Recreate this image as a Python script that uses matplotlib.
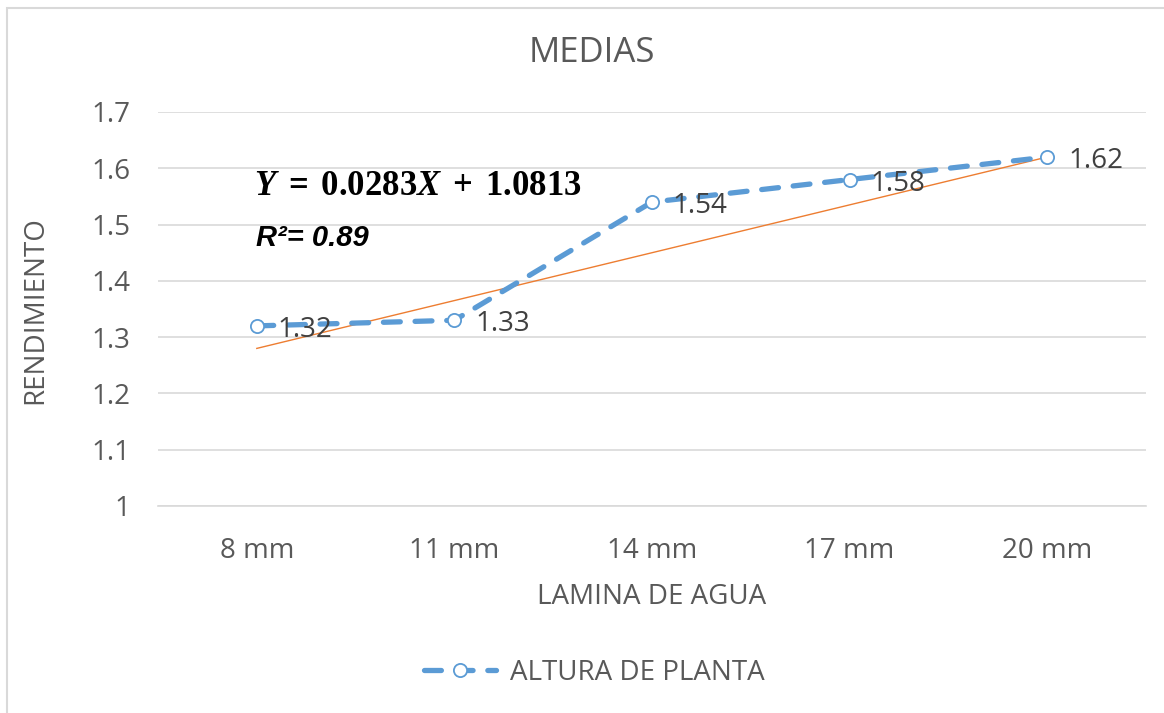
"""
Rendimiento medio por lámina de agua, con línea de tendencia lineal.
"""

import matplotlib

matplotlib.use("Agg")
import matplotlib.pyplot as plt
from matplotlib.patches import Rectangle

# ---------------------------------------------------------------------------
# Datos
# ---------------------------------------------------------------------------

categorias = ["8 mm", "11 mm", "14 mm", "17 mm", "20 mm"]
medias = [1.32, 1.33, 1.54, 1.58, 1.62]

# Extremos de la línea de tendencia (primera y última categoría)
tendencia = [1.28, 1.62]

y_ticks = [1, 1.1, 1.2, 1.3, 1.4, 1.5, 1.6, 1.7]

# ---------------------------------------------------------------------------
# Estilo
# ---------------------------------------------------------------------------

BLUE = "#5B9BD5"
ORANGE = "#ED7D31"
GRID = "#D9D9D9"
TXT = "#595959"
LBL = "#404040"
FS = 20

plt.rcParams.update(
    {
        "font.family": ["Open Sans", "DejaVu Sans"],
        "font.size": FS,
        "mathtext.fontset": "custom",
        "mathtext.rm": "Liberation Serif:bold",
        "mathtext.it": "Liberation Serif:bold:italic",
        "mathtext.bf": "Liberation Serif:bold",
    }
)

W, H = 1164, 713
fig = plt.figure(figsize=(W / 100, H / 100), dpi=100)
fig.patch.set_facecolor("white")

# Borde del área del gráfico
fig.patches.append(
    Rectangle(
        (7 / W, -0.05),
        1.1,
        1.05 - 8 / H,
        transform=fig.transFigure,
        fill=False,
        edgecolor=GRID,
        linewidth=1.5,
    )
)

ax = fig.add_axes([158 / W, 1 - 506 / H, (1146 - 158) / W, (506 - 112) / H])

x = list(range(1, len(categorias) + 1))

# Línea de tendencia
ax.plot([x[0], x[-1]], tendencia, color=ORANGE, linewidth=1.0, zorder=2)

# Serie principal
ax.plot(
    x,
    medias,
    color=BLUE,
    linewidth=3.8,
    linestyle=(0, (3.2, 2.8)),
    dash_capstyle="round",
    marker="o",
    markersize=9.5,
    markerfacecolor="white",
    markeredgecolor=BLUE,
    markeredgewidth=1.3,
    label="ALTURA DE PLANTA",
    zorder=3,
)

for xi, yi in zip(x, medias):
    ax.annotate(
        f"{yi:.2f}",
        (xi, yi),
        xytext=(15, -3),
        textcoords="offset points",
        ha="left",
        va="center",
        fontsize=FS,
        color=LBL,
        zorder=4,
    )

ax.set_xlim(0.5, len(categorias) + 0.5)
ax.set_ylim(1.0, 1.7)
ax.set_yticks(y_ticks)
ax.set_yticklabels([f"{t:g}" for t in y_ticks])
ax.set_xticks(x)
ax.set_xticklabels(categorias)

ax.grid(axis="y", color=GRID, linewidth=1.2)
ax.set_axisbelow(True)
for side in ("top", "right", "left"):
    ax.spines[side].set_visible(False)
ax.spines["bottom"].set_color(GRID)
ax.spines["bottom"].set_linewidth(1.2)
ax.tick_params(axis="both", length=0, colors=TXT, labelsize=FS)
ax.tick_params(axis="y", pad=20)
ax.tick_params(axis="x", pad=22)

# Títulos de ejes y del gráfico
fig.text(652 / W, 1 - 597 / H, "LAMINA DE AGUA", ha="center", va="center",
         fontsize=FS, color=TXT)
fig.text(35 / W, 1 - 310 / H, "RENDIMIENTO", ha="center", va="center",
         rotation=90, fontsize=FS, color=TXT)
fig.text(592 / W, 1 - 53 / H, "MEDIAS", ha="center", va="center",
         fontsize=25, color=TXT)

# Ecuación y coeficiente de determinación
fig.text(254 / W, 1 - 186 / H, r"$Y\;=\;0.0283X\;+\;1.0813$",
         ha="left", va="center", fontsize=25, color="black")
fig.text(256 / W, 1 - 238 / H, "R²= 0.89", ha="left", va="center",
         fontsize=21, color="black", family="Liberation Sans",
         fontweight="bold", style="italic")

ax.legend(
    loc="center",
    bbox_to_anchor=(594 / W, 1 - 673 / H),
    bbox_transform=fig.transFigure,
    frameon=False,
    fontsize=FS,
    labelcolor=TXT,
    handlelength=2.6,
    handletextpad=0.5,
)

fig.savefig("out.png", dpi=100)
